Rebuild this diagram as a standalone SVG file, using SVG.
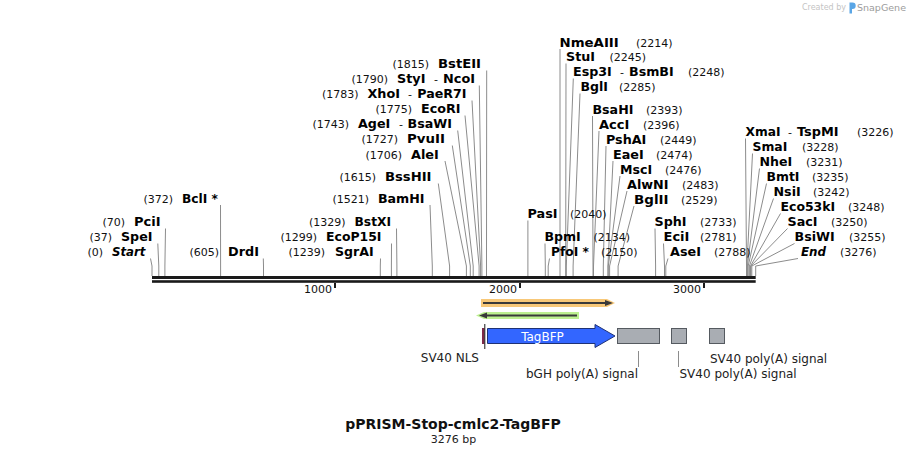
<svg xmlns="http://www.w3.org/2000/svg" width="908" height="455" viewBox="0 0 908 455">
<style>
text{font-family:"DejaVu Sans",Verdana,sans-serif}
.e{font-size:12px;font-weight:bold;fill:#000}
.i{font-style:italic}
.n{font-size:11px;fill:#111}
.h{font-size:11px;fill:#111}
.ld{fill:none;stroke:#8c8c8c;stroke-width:1}
.tk{font-size:11px;fill:#111}
.fl{font-size:12px;fill:#222}
.gb{fill:#a9adb3;stroke:#555a60;stroke-width:1}
</style>
<rect width="908" height="455" fill="#fff"/>
<g id="watermark">
<text x="846" y="10" font-size="8" fill="#c4c4c4" text-anchor="end">Created by</text>
<path d="M849.5,2.5 h3 a3.2,3.2 0 0 1 0,6.4 h-0.5 v4.6 h-2.5 z" fill="#5aa6e6"/>
<text x="857" y="11" font-size="9.5" fill="#9c9c9c">SnapGene</text>
</g>
<g id="connectors">
<polyline class="ld" points="152,276 152,266 150.5,258.5"/>
<polyline class="ld" points="158.8,276 158.8,266 157.8,243.5"/>
<polyline class="ld" points="164.9,276 164.9,266 165.5,228.5"/>
<polyline class="ld" points="220.6,276 220.6,266 220.5,205"/>
<polyline class="ld" points="263.5,276 263.5,266 263.3,258.5"/>
<polyline class="ld" points="380.3,276 380.3,266 380.5,258.5"/>
<polyline class="ld" points="391.4,276 391.4,266 391.5,243.5"/>
<polyline class="ld" points="396.9,276 396.9,266 396.5,228.5"/>
<polyline class="ld" points="432.3,276 432.3,266 430,205"/>
<polyline class="ld" points="449.6,276 449.6,266 438.3,183.5"/>
<polyline class="ld" points="466.4,276 466.4,266 445,161"/>
<polyline class="ld" points="470.3,276 470.3,266 452.3,145.5"/>
<polyline class="ld" points="473.2,276 473.2,266 457.7,130.5"/>
<polyline class="ld" points="479.1,276 479.1,266 465,115.5"/>
<polyline class="ld" points="480.6,276 480.6,266 472,100.5"/>
<polyline class="ld" points="481.9,276 481.9,266 479.3,85.5"/>
<polyline class="ld" points="486.5,276 486.5,266 486.7,70.5"/>
<polyline class="ld" points="527.9,276 527.9,266 527.9,220.5"/>
<polyline class="ld" points="545.3,276 545.3,266 545,243.5"/>
<polyline class="ld" points="548.2,276 548.2,266 549.5,258.5"/>
<polyline class="ld" points="560,276 560,266 560,49"/>
<polyline class="ld" points="565.7,276 565.7,266 566,63.5"/>
<polyline class="ld" points="566.3,276 566.3,266 573.3,78.5"/>
<polyline class="ld" points="573.1,276 573.1,266 580,93.5"/>
<polyline class="ld" points="593,276 593,266 592.5,116"/>
<polyline class="ld" points="593.5,276 593.5,266 599,131"/>
<polyline class="ld" points="603.3,276 603.3,266 606,146"/>
<polyline class="ld" points="607.9,276 607.9,266 613,161"/>
<polyline class="ld" points="608.3,276 608.3,266 620,176"/>
<polyline class="ld" points="609.6,276 609.6,266 627,191"/>
<polyline class="ld" points="618.1,276 618.1,266 634,206"/>
<polyline class="ld" points="655.6,276 655.6,266 655,228.5"/>
<polyline class="ld" points="664.5,276 664.5,266 663.5,243.5"/>
<polyline class="ld" points="665.8,276 665.8,266 668,258.5"/>
<polyline class="ld" points="746.5,276 746.5,266 745.5,138.5"/>
<polyline class="ld" points="746.9,276 746.9,266 752.5,153.5"/>
<polyline class="ld" points="747.4,276 747.4,266 759.5,168.5"/>
<polyline class="ld" points="748.2,276 748.2,266 766.5,183.5"/>
<polyline class="ld" points="749.4,276 749.4,266 773.5,198.5"/>
<polyline class="ld" points="750.5,276 750.5,266 780.5,213.5"/>
<polyline class="ld" points="750.9,276 750.9,266 787.5,228.5"/>
<polyline class="ld" points="751.8,276 751.8,266 794.5,243.5"/>
<polyline class="ld" points="755.7,276 755.7,266 798,258.5"/>
<line class="ld" x1="638.5" y1="351" x2="638.5" y2="367"/>
<line class="ld" x1="678.5" y1="351" x2="678.5" y2="367"/>
</g>
<g id="backbone">
<rect x="152" y="276" width="603.7" height="3" fill="#1a1a1a"/>
<rect x="152" y="280.2" width="603.7" height="2.6" fill="#1a1a1a"/>
<rect x="334" y="283" width="2" height="5" fill="#1a1a1a"/>
<rect x="519" y="283" width="2" height="5" fill="#1a1a1a"/>
<rect x="703" y="283" width="2" height="5" fill="#1a1a1a"/>
<text class="tk" x="332" y="293" text-anchor="end">1000</text>
<text class="tk" x="517" y="293" text-anchor="end">2000</text>
<text class="tk" x="701" y="293" text-anchor="end">3000</text>
</g>
<g id="sites-left">
<g id="s-start"><text class="n" x="103" y="256" text-anchor="end">(0)</text><text class="e i" x="112" y="256" textLength="33.4" lengthAdjust="spacingAndGlyphs">Start</text></g>
<g id="s-spei"><text class="n" x="112" y="241" text-anchor="end">(37)</text><text class="e" x="121" y="241" textLength="31.4" lengthAdjust="spacingAndGlyphs">SpeI</text></g>
<g id="s-pcii"><text class="n" x="125" y="226" text-anchor="end">(70)</text><text class="e" x="134" y="226" textLength="26.5" lengthAdjust="spacingAndGlyphs">PciI</text></g>
<g id="s-bcli"><text class="n" x="173" y="202.5" text-anchor="end">(372)</text><text class="e" x="182" y="202.5" textLength="36" lengthAdjust="spacingAndGlyphs">BclI *</text></g>
<g id="s-drdi"><text class="n" x="219" y="256" text-anchor="end">(605)</text><text class="e" x="228" y="256" textLength="30.9" lengthAdjust="spacingAndGlyphs">DrdI</text></g>
<g id="s-sgrai"><text class="n" x="325" y="256" text-anchor="end">(1239)</text><text class="e" x="335" y="256" textLength="38.7" lengthAdjust="spacingAndGlyphs">SgrAI</text></g>
<g id="s-ecop15i"><text class="n" x="317" y="241" text-anchor="end">(1299)</text><text class="e" x="326" y="241" textLength="55.5" lengthAdjust="spacingAndGlyphs">EcoP15I</text></g>
<g id="s-bstxi"><text class="n" x="345.5" y="226" text-anchor="end">(1329)</text><text class="e" x="354.5" y="226" textLength="36.5" lengthAdjust="spacingAndGlyphs">BstXI</text></g>
<g id="s-bamhi"><text class="n" x="369" y="202.5" text-anchor="end">(1521)</text><text class="e" x="378" y="202.5" textLength="46.5" lengthAdjust="spacingAndGlyphs">BamHI</text></g>
<g id="s-bsshii"><text class="n" x="376" y="181" text-anchor="end">(1615)</text><text class="e" x="385" y="181" textLength="46.5" lengthAdjust="spacingAndGlyphs">BssHII</text></g>
<g id="s-alei"><text class="n" x="402" y="158.5" text-anchor="end">(1706)</text><text class="e" x="411" y="158.5" textLength="27.9" lengthAdjust="spacingAndGlyphs">AleI</text></g>
<g id="s-pvuii"><text class="n" x="398" y="143" text-anchor="end">(1727)</text><text class="e" x="407" y="143" textLength="38" lengthAdjust="spacingAndGlyphs">PvuII</text></g>
<g id="s-agei"><text class="n" x="349" y="128" text-anchor="end">(1743)</text><text class="e" x="358" y="128" textLength="32.2" lengthAdjust="spacingAndGlyphs">AgeI</text><text class="h" x="399" y="128">-</text><text class="e" x="407.6" y="128" textLength="44.4" lengthAdjust="spacingAndGlyphs">BsaWI</text></g>
<g id="s-ecori"><text class="n" x="412" y="113" text-anchor="end">(1775)</text><text class="e" x="421" y="113" textLength="39.4" lengthAdjust="spacingAndGlyphs">EcoRI</text></g>
<g id="s-xhoi"><text class="n" x="358.5" y="98" text-anchor="end">(1783)</text><text class="e" x="367.5" y="98" textLength="32.5" lengthAdjust="spacingAndGlyphs">XhoI</text><text class="h" x="408" y="98">-</text><text class="e" x="417.3" y="98" textLength="49.2" lengthAdjust="spacingAndGlyphs">PaeR7I</text></g>
<g id="s-styi"><text class="n" x="388" y="83" text-anchor="end">(1790)</text><text class="e" x="397" y="83" textLength="28.4" lengthAdjust="spacingAndGlyphs">StyI</text><text class="h" x="434" y="83">-</text><text class="e" x="443" y="83" textLength="32" lengthAdjust="spacingAndGlyphs">NcoI</text></g>
<g id="s-bsteii"><text class="n" x="429" y="68" text-anchor="end">(1815)</text><text class="e" x="438" y="68" textLength="43" lengthAdjust="spacingAndGlyphs">BstEII</text></g>
</g>
<g id="sites-middle">
<g id="s-pasi"><text class="e" x="527.5" y="218" textLength="30" lengthAdjust="spacingAndGlyphs">PasI</text><text class="n" x="570" y="218">(2040)</text></g>
<g id="s-bpmi"><text class="e" x="544.5" y="241" textLength="36.3" lengthAdjust="spacingAndGlyphs">BpmI</text><text class="n" x="593.5" y="241">(2134)</text></g>
<g id="s-pfoi"><text class="e" x="551" y="256" textLength="38" lengthAdjust="spacingAndGlyphs">PfoI *</text><text class="n" x="601" y="256">(2150)</text></g>
<g id="s-nmeaiii"><text class="e" x="559.5" y="46.5" textLength="59.3" lengthAdjust="spacingAndGlyphs">NmeAIII</text><text class="n" x="636" y="46.5">(2214)</text></g>
<g id="s-stui"><text class="e" x="566" y="61" textLength="29" lengthAdjust="spacingAndGlyphs">StuI</text><text class="n" x="609.5" y="61">(2245)</text></g>
<g id="s-esp3i"><text class="e" x="573" y="76" textLength="38.8" lengthAdjust="spacingAndGlyphs">Esp3I</text><text class="h" x="620" y="76">-</text><text class="e" x="629" y="76" textLength="44.7" lengthAdjust="spacingAndGlyphs">BsmBI</text><text class="n" x="688" y="76">(2248)</text></g>
<g id="s-bgli"><text class="e" x="580.5" y="91" textLength="27.5" lengthAdjust="spacingAndGlyphs">BglI</text><text class="n" x="619" y="91">(2285)</text></g>
<g id="s-bsahi"><text class="e" x="592.5" y="113.5" textLength="40.9" lengthAdjust="spacingAndGlyphs">BsaHI</text><text class="n" x="646" y="113.5">(2393)</text></g>
<g id="s-acci"><text class="e" x="599" y="128.5" textLength="30.3" lengthAdjust="spacingAndGlyphs">AccI</text><text class="n" x="643" y="128.5">(2396)</text></g>
<g id="s-pshai"><text class="e" x="606" y="143.5" textLength="40.3" lengthAdjust="spacingAndGlyphs">PshAI</text><text class="n" x="660" y="143.5">(2449)</text></g>
<g id="s-eaei"><text class="e" x="613" y="158.5" textLength="30.7" lengthAdjust="spacingAndGlyphs">EaeI</text><text class="n" x="656" y="158.5">(2474)</text></g>
<g id="s-msci"><text class="e" x="620" y="173.5" textLength="32.1" lengthAdjust="spacingAndGlyphs">MscI</text><text class="n" x="665" y="173.5">(2476)</text></g>
<g id="s-alwni"><text class="e" x="627" y="188.5" textLength="41.5" lengthAdjust="spacingAndGlyphs">AlwNI</text><text class="n" x="682" y="188.5">(2483)</text></g>
<g id="s-bglii"><text class="e" x="634" y="203.5" textLength="34.5" lengthAdjust="spacingAndGlyphs">BglII</text><text class="n" x="681" y="203.5">(2529)</text></g>
<g id="s-sphi"><text class="e" x="654.5" y="226" textLength="32" lengthAdjust="spacingAndGlyphs">SphI</text><text class="n" x="700" y="226">(2733)</text></g>
<g id="s-ecii"><text class="e" x="663.5" y="241" textLength="25.9" lengthAdjust="spacingAndGlyphs">EciI</text><text class="n" x="700" y="241">(2781)</text></g>
<g id="s-asei"><text class="e" x="670" y="256" textLength="30.9" lengthAdjust="spacingAndGlyphs">AseI</text><text class="n" x="714" y="256">(2788)</text></g>
</g>
<g id="sites-right">
<g id="s-xmai"><text class="e" x="745.5" y="136" textLength="35" lengthAdjust="spacingAndGlyphs">XmaI</text><text class="h" x="788" y="136">-</text><text class="e" x="797" y="136" textLength="41.6" lengthAdjust="spacingAndGlyphs">TspMI</text><text class="n" x="857" y="136">(3226)</text></g>
<g id="s-smai"><text class="e" x="752.5" y="151" textLength="34.8" lengthAdjust="spacingAndGlyphs">SmaI</text><text class="n" x="802" y="151">(3228)</text></g>
<g id="s-nhei"><text class="e" x="759.5" y="166" textLength="32.7" lengthAdjust="spacingAndGlyphs">NheI</text><text class="n" x="806" y="166">(3231)</text></g>
<g id="s-bmti"><text class="e" x="766.5" y="181" textLength="33" lengthAdjust="spacingAndGlyphs">BmtI</text><text class="n" x="812" y="181">(3235)</text></g>
<g id="s-nsii"><text class="e" x="773.5" y="196" textLength="27.2" lengthAdjust="spacingAndGlyphs">NsiI</text><text class="n" x="813" y="196">(3242)</text></g>
<g id="s-eco53ki"><text class="e" x="780.5" y="211" textLength="54.7" lengthAdjust="spacingAndGlyphs">Eco53kI</text><text class="n" x="848" y="211">(3248)</text></g>
<g id="s-saci"><text class="e" x="787.5" y="226" textLength="30" lengthAdjust="spacingAndGlyphs">SacI</text><text class="n" x="831" y="226">(3250)</text></g>
<g id="s-bsiwi"><text class="e" x="794.5" y="241" textLength="40.2" lengthAdjust="spacingAndGlyphs">BsiWI</text><text class="n" x="849" y="241">(3255)</text></g>
<g id="s-end"><text class="e i" x="801" y="256" textLength="25.1" lengthAdjust="spacingAndGlyphs">End</text><text class="n" x="840" y="256">(3276)</text></g>
</g>
<g id="primer-fwd">
<path d="M481,299 H607 L615,303 L607,307 H481 Z" fill="#f8c878"/>
<line x1="483" y1="303" x2="607" y2="303" stroke="#3a3a3a" stroke-width="2"/>
<polygon points="605,300 613,303 605,306" fill="#3a3a3a"/>
</g>
<g id="primer-rev">
<path d="M579,312 H484 L476,315.5 L484,319 H579 Z" fill="#bdf090"/>
<line x1="577" y1="315.5" x2="485" y2="315.5" stroke="#3a3a3a" stroke-width="2"/>
<polygon points="487,312.5 479,315.5 487,318.5" fill="#3a3a3a"/>
</g>
<g id="sv40-nls">
<rect x="482" y="328" width="2.5" height="16" fill="#7d2a48"/>
<line x1="484.8" y1="324" x2="484.8" y2="349" stroke="#1a1a1a" stroke-width="1"/>
<text class="fl" x="479" y="362" text-anchor="end">SV40 NLS</text>
</g>
<g id="tagbfp">
<polygon points="487.5,328.5 595,328.5 595,324.5 615,336 595,347.5 595,343.5 487.5,343.5" fill="#3366ff" stroke="#1f3275" stroke-width="1"/>
<text x="542.5" y="340.5" font-size="12" fill="#fff" text-anchor="middle">TagBFP</text>
</g>
<g id="bgh-polya">
<rect class="gb" x="617.5" y="328.5" width="42" height="15"/>
<text class="fl" x="638" y="378" text-anchor="end">bGH poly(A) signal</text>
</g>
<g id="sv40-polya-1">
<rect class="gb" x="671.5" y="328.5" width="15" height="15"/>
<text class="fl" x="679.5" y="378">SV40 poly(A) signal</text>
</g>
<g id="sv40-polya-2">
<rect class="gb" x="709.5" y="328.5" width="15" height="15"/>
<text class="fl" x="710" y="362.5">SV40 poly(A) signal</text>
</g>
<g id="title">
<text x="453" y="429" font-size="14" font-weight="bold" fill="#111" text-anchor="middle">pPRISM-Stop-cmlc2-TagBFP</text>
<text x="453.5" y="442.5" font-size="11" fill="#222" text-anchor="middle">3276 bp</text>
</g>
</svg>
